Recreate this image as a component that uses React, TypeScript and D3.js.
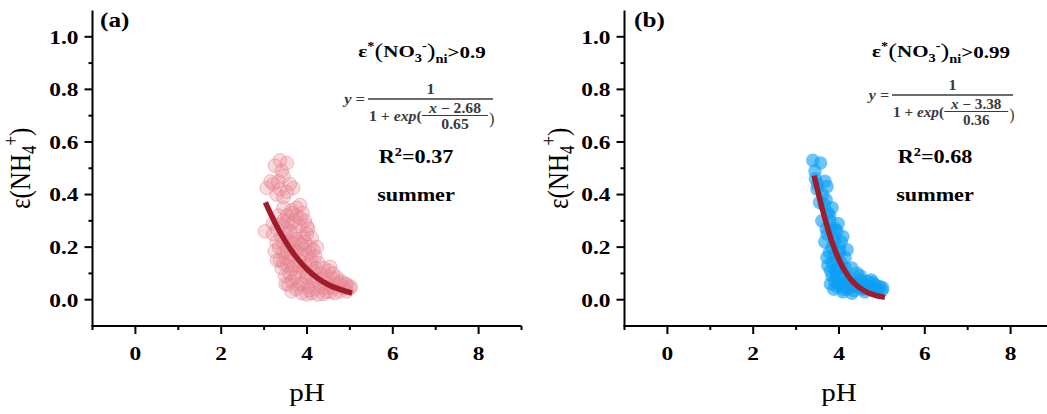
import React from "react";
import * as d3 from "d3";

const W = 1047;
const H = 414;
const SX = 1.2; // the source picture is stretched horizontally

const xMajor = [0, 2, 4, 6, 8];
const xMinor = [-1, 1, 3, 5, 7, 9];
const yMajor = [0, 0.2, 0.4, 0.6, 0.8, 1.0];
const yMinor = [0.1, 0.3, 0.5, 0.7, 0.9];

// panel (a): eps(NO3-)ni > 0.9, summer  [pH, eps(NH4+)]
const summerA: [number, number][] = [
  [3.37, 0.53], [3.53, 0.52], [3.25, 0.51], [3.41, 0.49], [3.45, 0.47],
  [3.21, 0.44], [3.33, 0.45], [3.6, 0.44], [3.68, 0.425], [3.37, 0.42],
  [3.53, 0.41], [3.29, 0.4], [3.45, 0.39], [3.06, 0.425], [3.15, 0.45],
  [3.84, 0.36], [3.45, 0.35], [3.64, 0.34], [3.33, 0.32], [3.53, 0.32],
  [3.76, 0.32], [3.95, 0.3], [3.21, 0.29], [3.41, 0.285], [3.64, 0.29],
  [3.84, 0.28], [4.03, 0.27], [3.02, 0.26], [3.21, 0.25], [3.53, 0.25],
  [3.72, 0.25], [3.91, 0.24], [4.11, 0.235], [3.29, 0.22], [3.45, 0.215],
  [3.68, 0.215], [3.88, 0.21], [4.07, 0.2], [4.23, 0.2], [3.25, 0.185],
  [3.53, 0.18], [3.76, 0.185], [3.99, 0.17], [4.19, 0.165], [3.37, 0.15],
  [3.6, 0.145], [3.84, 0.145], [4.07, 0.135], [4.26, 0.14], [3.41, 0.12],
  [3.64, 0.115], [3.91, 0.115], [4.15, 0.11], [4.38, 0.12], [4.54, 0.125],
  [3.49, 0.09], [3.72, 0.085], [3.99, 0.085], [4.23, 0.075], [4.46, 0.09],
  [4.69, 0.085], [3.56, 0.057], [3.8, 0.05], [4.03, 0.05], [4.3, 0.05],
  [4.54, 0.05], [4.77, 0.063], [4.93, 0.057], [5.0, 0.044], [3.64, 0.032],
  [3.88, 0.025], [4.11, 0.025], [4.38, 0.022], [4.77, 0.032], [4.93, 0.032],
  [3.7, 0.3], [3.6, 0.26], [3.8, 0.22], [3.95, 0.19], [3.7, 0.19],
  [3.85, 0.17], [3.55, 0.13], [3.75, 0.1], [4.0, 0.1], [3.65, 0.07],
  [3.9, 0.06], [4.15, 0.07], [4.45, 0.065], [4.6, 0.045], [4.85, 0.045],
  [4.2, 0.04], [4.05, 0.035], [3.75, 0.04], [3.45, 0.3], [3.9, 0.33],
  [4.0, 0.25], [4.1, 0.15], [3.35, 0.2], [3.55, 0.2], [4.3, 0.1],
  [4.6, 0.1], [4.7, 0.06], [4.25, 0.02], [4.45, 0.03], [3.5, 0.16],
  [3.3, 0.27], [3.4, 0.24], [3.5, 0.27], [3.6, 0.22], [3.75, 0.23],
  [3.95, 0.22], [4.05, 0.18], [4.15, 0.19], [3.45, 0.18], [3.3, 0.15],
  [3.45, 0.14], [3.65, 0.17], [3.8, 0.13], [3.95, 0.13], [4.2, 0.12],
  [4.35, 0.08], [4.5, 0.11], [4.6, 0.08], [4.8, 0.07], [4.9, 0.06],
  [5.02, 0.05], [4.4, 0.045], [4.55, 0.03], [4.65, 0.025], [4.0, 0.02],
  [3.85, 0.06], [3.6, 0.1], [3.5, 0.06], [3.7, 0.13], [4.1, 0.09],
  [3.55, 0.3], [3.65, 0.33], [3.75, 0.35], [3.85, 0.31], [4.0, 0.28],
];

// fitted curve of panel (a)
const fitA: [number, number][] = [
  [3.03, 0.37], [3.25, 0.294], [3.5, 0.221], [3.75, 0.162], [4.0, 0.116],
  [4.25, 0.082], [4.5, 0.057], [4.75, 0.04], [5.05, 0.025],
];

// panel (b): eps(NO3-)ni > 0.99, summer
const summerB: [number, number][] = [
  [3.39, 0.53], [3.57, 0.52], [3.44, 0.49], [3.67, 0.45], [3.49, 0.42],
  [3.72, 0.43], [3.84, 0.35], [3.74, 0.33], [3.6, 0.3], [3.79, 0.3],
  [3.98, 0.29], [3.91, 0.27], [4.09, 0.24], [3.72, 0.25], [3.67, 0.22],
  [3.84, 0.2], [4.02, 0.19], [4.19, 0.19], [3.72, 0.16], [3.95, 0.15],
  [4.14, 0.16], [3.74, 0.13], [3.91, 0.11], [3.84, 0.09], [4.07, 0.08],
  [3.95, 0.05], [4.09, 0.03], [4.3, 0.025], [4.42, 0.1], [4.49, 0.075],
  [4.65, 0.07], [4.79, 0.065], [4.95, 0.05], [5.02, 0.045], [4.79, 0.04],
  [4.56, 0.04], [4.33, 0.05], [4.19, 0.065], [4.91, 0.03], [4.49, 0.045],
  [3.88, 0.22], [4.0, 0.12], [3.8, 0.06], [4.2, 0.04], [4.62, 0.055],
  [4.85, 0.055], [3.55, 0.37], [3.66, 0.36], [4.1, 0.1], [3.9, 0.17],
  [3.45, 0.46], [3.5, 0.44], [3.62, 0.4], [3.7, 0.38], [3.78, 0.32],
  [3.82, 0.27], [3.7, 0.27], [3.95, 0.26], [4.05, 0.22], [3.9, 0.23],
  [3.78, 0.18], [3.85, 0.14], [4.0, 0.18], [4.05, 0.14], [3.8, 0.11],
  [3.95, 0.09], [4.15, 0.12], [3.9, 0.07], [4.0, 0.06], [4.15, 0.05],
  [4.25, 0.08], [4.4, 0.06], [4.55, 0.06], [4.7, 0.05], [4.88, 0.04],
  [5.0, 0.035], [4.6, 0.03], [4.35, 0.035], [4.1, 0.04], [3.88, 0.04],
  [4.75, 0.075], [4.5, 0.09], [4.3, 0.12],
];

const fitB: [number, number][] = [
  [3.42, 0.472], [3.6, 0.352], [3.8, 0.237], [4.0, 0.152], [4.2, 0.093],
  [4.4, 0.056], [4.6, 0.033], [4.8, 0.019], [5.07, 0.009],
];

const FONT = "'Liberation Serif', 'Times New Roman', serif";

function SText({ x, y, size, anchor = "middle", weight = "bold", children, fill = "#000", italic = false, sx = SX }) {
  return (
    <text
      transform={`translate(${x},${y}) scale(${sx},1)`}
      textAnchor={anchor}
      fontFamily={FONT}
      fontSize={size}
      fontWeight={weight}
      fontStyle={italic ? "italic" : "normal"}
      fill={fill}
    >
      {children}
    </text>
  );
}

function Formula({ fx, fy, fw, mu, sigma }) {
  const k = fw / 125;
  const c = "#3a3a3a";
  const fs = 15 * k;
  return (
    <g fill={c}>
      <SText x={fx - 3} y={fy + 5} size={fs} anchor="end" fill={c} italic sx={1.1}>
        y =
      </SText>
      <SText x={fx + fw / 2} y={fy - 5} size={fs} fill={c} sx={1.1}>1</SText>
      <line x1={fx} x2={fx + fw} y1={fy} y2={fy} stroke={c} strokeWidth={1.4} />
      <SText x={fx + 1} y={fy + 22} size={fs} anchor="start" fill={c} sx={1.05}>
        <tspan>1 + </tspan>
        <tspan fontStyle="italic">exp</tspan>
        <tspan>(</tspan>
      </SText>
      <SText x={fx + 87 * k} y={fy + 14} size={fs * 0.95} fill={c} sx={1.1}>
        <tspan fontStyle="italic">x</tspan>
        <tspan>{` \u2212 ${mu}`}</tspan>
      </SText>
      <line x1={fx + 54 * k} x2={fx + 120 * k} y1={fy + 16.5} y2={fy + 16.5} stroke={c} strokeWidth={1.2} />
      <SText x={fx + 87 * k} y={fy + 30} size={fs * 0.95} fill={c} sx={1.1}>{sigma}</SText>
      <SText x={fx + 121 * k} y={fy + 25} size={fs * 1.1} anchor="start" fill={c} weight="normal" sx={1}>)</SText>
    </g>
  );
}

function Panel({ x0, x1, label, labelX, yLabelX, points, fit, fill, fillOpacity, stroke, strokeOpacity, ann }) {
  const top = 10.5;
  const bottom = 326;
  const x = d3.scaleLinear().domain([-1, 9]).range([x0, x1]);
  const y = d3.scaleLinear().domain([-0.1, 1.1]).range([bottom, top]);
  const line = d3
    .line<[number, number]>()
    .x(d => x(d[0]))
    .y(d => y(d[1]))
    .curve(d3.curveMonotoneX);

  return (
    <g>
      {/* scatter */}
      <g>
        {points.map((d, i) => (
          <circle
            key={i}
            cx={x(d[0])}
            cy={y(d[1])}
            r={6.8}
            fill={fill}
            fillOpacity={fillOpacity}
            stroke={stroke}
            strokeOpacity={strokeOpacity}
            strokeWidth={1}
          />
        ))}
      </g>
      <path d={line(fit)} fill="none" stroke="#a01c2c" strokeWidth={5.5} />

      {/* axes */}
      <line x1={x0} x2={x0} y1={top} y2={bottom} stroke="#000" strokeWidth={2} />
      <line x1={x0 - 1} x2={x1} y1={bottom} y2={bottom} stroke="#000" strokeWidth={2} />
      {yMajor.map(v => (
        <g key={"ym" + v}>
          <line x1={x0 - 8} x2={x0} y1={y(v)} y2={y(v)} stroke="#000" strokeWidth={2} />
          <SText x={x0 - 14} y={y(v) + 6.8} size={19.5} anchor="end">{v.toFixed(1)}</SText>
        </g>
      ))}
      {yMinor.map(v => (
        <line key={"yn" + v} x1={x0 - 4} x2={x0} y1={y(v)} y2={y(v)} stroke="#000" strokeWidth={2} />
      ))}
      {xMajor.map(v => (
        <g key={"xm" + v}>
          <line x1={x(v)} x2={x(v)} y1={bottom} y2={bottom + 8} stroke="#000" strokeWidth={2} />
          <SText x={x(v)} y={359.5} size={19.5}>{v}</SText>
        </g>
      ))}
      {xMinor.map(v => (
        <line key={"xn" + v} x1={x(v)} x2={x(v)} y1={bottom} y2={bottom + 4} stroke="#000" strokeWidth={2} />
      ))}

      {/* titles */}
      <SText x={labelX} y={27} size={21} anchor="start">{label}</SText>
      <text
        transform={`translate(${(x0 + x1) / 2},401) scale(1.12,1)`}
        textAnchor="middle"
        fontFamily={FONT}
        fontSize={26}
      >
        pH
      </text>
      <text
        transform={`translate(${yLabelX},${(top + bottom) / 2}) scale(${SX},1) rotate(-90)`}
        textAnchor="middle"
        fontFamily={FONT}
        fontSize={25}
      >
        <tspan>ε(NH</tspan>
        <tspan fontSize={17} dy={5}>4</tspan>
        <tspan fontSize={17} dy={-15}>+</tspan>
        <tspan dy={10}>)</tspan>
      </text>

      {/* annotations */}
      <SText x={ann.cx} y={57} size={17.5}>
        <tspan>ε</tspan>
        <tspan fontSize={12} dy={-7}>*</tspan>
        <tspan fontSize={22} dy={8} fontWeight="normal">(</tspan>
        <tspan dy={-1}>NO</tspan>
        <tspan fontSize={12} dy={5}>3</tspan>
        <tspan fontSize={12} dy={-12}>-</tspan>
        <tspan fontSize={22} dy={8} fontWeight="normal">)</tspan>
        <tspan fontSize={12} dy={5}>ni</tspan>
        <tspan dy={-5}>{">" + ann.threshold}</tspan>
      </SText>
      <Formula fx={ann.fx} fy={ann.fy} fw={ann.fw} mu={ann.mu} sigma={ann.sigma} />
      <SText x={ann.cx - 6} y={163} size={18.5}>
        <tspan>R</tspan>
        <tspan fontSize={12} dy={-7}>2</tspan>
        <tspan dy={7}>{"=" + ann.r2}</tspan>
      </SText>
      <SText x={ann.cx - 6} y={201} size={18.5}>summer</SText>
    </g>
  );
}

export default function App() {
  return (
    <svg
      width={W}
      height={H}
      style={{ position: "absolute", left: 0, top: 0, background: "#fff" }}
    >
      <Panel
        x0={92.5}
        x1={521.5}
        label="(a)"
        labelX={100}
        yLabelX={30}
        points={summerA}
        fit={fitA}
        fill="#e88a96"
        fillOpacity={0.32}
        stroke="#e07e8c"
        strokeOpacity={0.45}
        ann={{ cx: 422, fx: 368, fy: 99, fw: 125, mu: "2.68", sigma: "0.65", threshold: "0.9", r2: "0.37" }}
      />
      <Panel
        x0={624.5}
        x1={1053.5}
        label="(b)"
        labelX={634}
        yLabelX={568}
        points={summerB}
        fit={fitB}
        fill="#0a9ef5"
        fillOpacity={0.6}
        stroke="none"
        strokeOpacity={0}
        ann={{ cx: 941, fx: 892, fy: 95, fw: 121, mu: "3.38", sigma: "0.36", threshold: "0.99", r2: "0.68" }}
      />
    </svg>
  );
}
